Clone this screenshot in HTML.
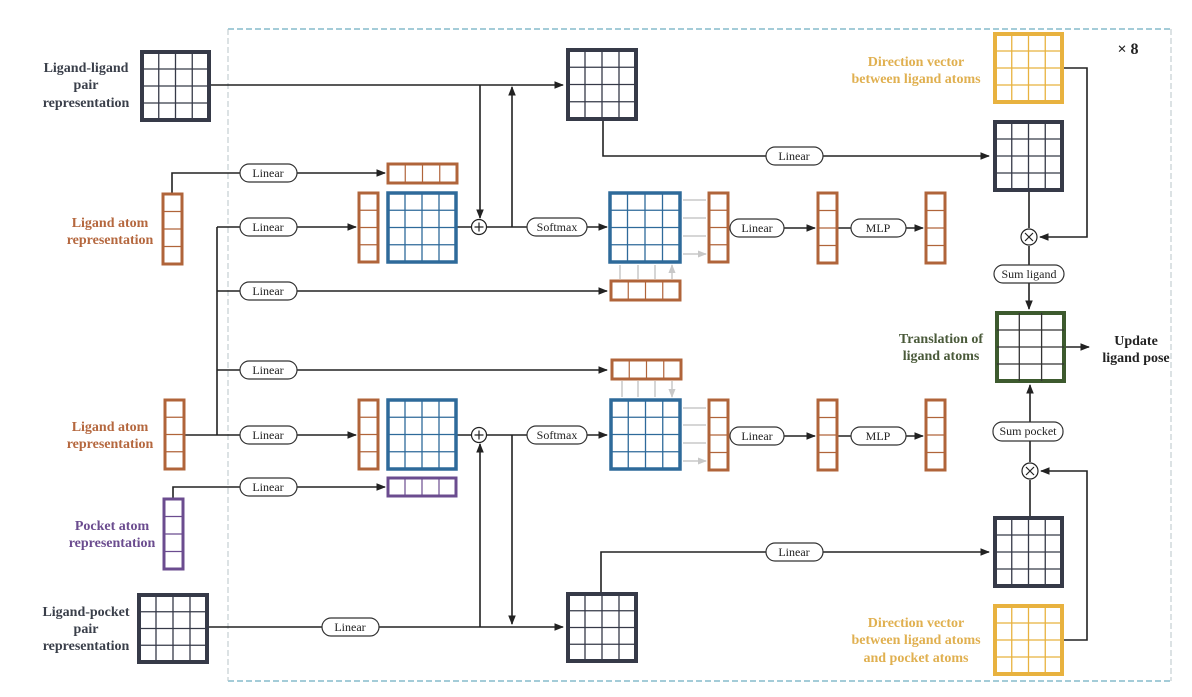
<!DOCTYPE html>
<html><head><meta charset="utf-8"><style>
html,body{margin:0;padding:0;background:#fff;}
svg{display:block;}
.lb{font-family:"Liberation Serif",serif;font-weight:bold;font-size:14px;text-anchor:middle;}
.pl{font-family:"Liberation Serif",serif;font-size:12px;text-anchor:middle;fill:#222;}
.pill{fill:#fff;stroke:#333;stroke-width:1.2;}
.ln{stroke:#222;stroke-width:1.6;fill:none;}
.gl{stroke:#c8c8c8;stroke-width:1.5;fill:none;}
</style></head><body>
<svg width="1192" height="697" viewBox="0 0 1192 697" xmlns="http://www.w3.org/2000/svg">
<defs>
<marker id="a" viewBox="0 0 10 10" refX="9" refY="5" markerWidth="6" markerHeight="6" orient="auto-start-reverse"><path d="M0 1L10 5L0 9z" fill="#222"/></marker>
<marker id="g" viewBox="0 0 10 10" refX="9" refY="5" markerWidth="6" markerHeight="6" orient="auto-start-reverse"><path d="M0 1L10 5L0 9z" fill="#c8c8c8"/></marker>
</defs>
<path d="M228 29H1171" stroke="#4a9ab0" stroke-width="1" stroke-dasharray="6 3"/>
<path d="M228 681H1171" stroke="#4a9ab0" stroke-width="1" stroke-dasharray="6 3"/>
<path d="M228 29V681M1171 29V681" stroke="#b8c4c8" stroke-width="1" stroke-dasharray="6 3"/>
<text x="1128" y="54" font-family="Liberation Serif,serif" font-weight="bold" font-size="16" fill="#222" text-anchor="middle">× 8</text>

<g class="lb" fill="#3a3f4a"><text x="86" y="72">Ligand-ligand</text><text x="86" y="89">pair</text><text x="86" y="107">representation</text></g>
<g class="lb" fill="#b5683f"><text x="110" y="227">Ligand atom</text><text x="110" y="244">representation</text></g>
<g class="lb" fill="#b5683f"><text x="110" y="431">Ligand atom</text><text x="110" y="448">representation</text></g>
<g class="lb" fill="#6b4c8f"><text x="112" y="530">Pocket atom</text><text x="112" y="547">representation</text></g>
<g class="lb" fill="#3a3f4a"><text x="86" y="616">Ligand-pocket</text><text x="86" y="633">pair</text><text x="86" y="650">representation</text></g>
<g class="lb" fill="#e0b050"><text x="916" y="66">Direction vector</text><text x="916" y="83">between ligand atoms</text></g>
<g class="lb" fill="#e0b050"><text x="916" y="627">Direction vector</text><text x="916" y="644">between ligand atoms</text><text x="916" y="662">and pocket atoms</text></g>
<g class="lb" fill="#4a5a3a"><text x="941" y="343">Translation of</text><text x="941" y="360">ligand atoms</text></g>
<g class="lb" fill="#222"><text x="1136" y="345">Update</text><text x="1136" y="362">ligand pose</text></g>

<g class="ln">
<path d="M210 85H563" marker-end="url(#a)"/>
<path d="M480 85V218" marker-end="url(#a)"/>
<path d="M512 227V87" marker-end="url(#a)"/>
<path d="M603 120V156H989" marker-end="url(#a)"/>
<path d="M172 193V173H385" marker-end="url(#a)"/>
<path d="M217 227V435M185 435H217"/>
<path d="M217 227H356" marker-end="url(#a)"/>
<path d="M217 291H607" marker-end="url(#a)"/>
<path d="M217 370H607" marker-end="url(#a)"/>
<path d="M217 435H356" marker-end="url(#a)"/>
<path d="M457 227H472M487 227H607" marker-end="url(#a)"/>
<path d="M729 228H815" marker-end="url(#a)"/>
<path d="M838 228H923" marker-end="url(#a)"/>
<path d="M457 435H472M487 435H607" marker-end="url(#a)"/>
<path d="M729 436H815" marker-end="url(#a)"/>
<path d="M838 436H923" marker-end="url(#a)"/>
<path d="M173 498V487H385" marker-end="url(#a)"/>
<path d="M208 627H563" marker-end="url(#a)"/>
<path d="M480 627V444" marker-end="url(#a)"/>
<path d="M512 435V624" marker-end="url(#a)"/>
<path d="M601 592V552H989" marker-end="url(#a)"/>
<path d="M1063 68H1087V237H1040" marker-end="url(#a)"/>
<path d="M1029 190V228M1029 246V309" marker-end="url(#a)"/>
<path d="M1065 347H1089" marker-end="url(#a)"/>
<path d="M1030 516V480M1030 462V385" marker-end="url(#a)"/>
<path d="M1063 640H1087V471H1041" marker-end="url(#a)"/>
</g>

<g>
<rect class="pill" x="240" y="164" width="57" height="18" rx="9"/><text class="pl" x="268" y="177">Linear</text>
<rect class="pill" x="240" y="218" width="57" height="18" rx="9"/><text class="pl" x="268" y="231">Linear</text>
<rect class="pill" x="240" y="282" width="57" height="18" rx="9"/><text class="pl" x="268" y="295">Linear</text>
<rect class="pill" x="240" y="361" width="57" height="18" rx="9"/><text class="pl" x="268" y="374">Linear</text>
<rect class="pill" x="240" y="426" width="57" height="18" rx="9"/><text class="pl" x="268" y="439">Linear</text>
<rect class="pill" x="240" y="478" width="57" height="18" rx="9"/><text class="pl" x="268" y="491">Linear</text>
<rect class="pill" x="322" y="618" width="57" height="18" rx="9"/><text class="pl" x="350" y="631">Linear</text>
<rect class="pill" x="766" y="147" width="57" height="18" rx="9"/><text class="pl" x="794" y="160">Linear</text>
<rect class="pill" x="766" y="543" width="57" height="18" rx="9"/><text class="pl" x="794" y="556">Linear</text>
<rect class="pill" x="527" y="218" width="60" height="18" rx="9"/><text class="pl" x="557" y="231">Softmax</text>
<rect class="pill" x="527" y="426" width="60" height="18" rx="9"/><text class="pl" x="557" y="439">Softmax</text>
<rect class="pill" x="730" y="219" width="54" height="18" rx="9"/><text class="pl" x="757" y="232">Linear</text>
<rect class="pill" x="730" y="427" width="54" height="18" rx="9"/><text class="pl" x="757" y="440">Linear</text>
<rect class="pill" x="851" y="219" width="55" height="18" rx="9"/><text class="pl" x="878" y="232">MLP</text>
<rect class="pill" x="851" y="427" width="55" height="18" rx="9"/><text class="pl" x="878" y="440">MLP</text>
<rect class="pill" x="994" y="265" width="70" height="18" rx="9"/><text class="pl" x="1029" y="278">Sum ligand</text>
<rect class="pill" x="993" y="422" width="70" height="19" rx="9"/><text class="pl" x="1028" y="435">Sum pocket</text>
</g>
<g fill="#fff" stroke="#222" stroke-width="1.2">
<circle cx="479" cy="227" r="7.5"/><circle cx="479" cy="435" r="7.5"/>
<circle cx="1029" cy="237" r="8"/><circle cx="1030" cy="471" r="8"/>
</g>
<g stroke="#222" stroke-width="1.2">
<path d="M474.5 227h9M479 222.5v9M474.5 435h9M479 430.5v9"/>
<path d="M1025 233l8 8M1033 233l-8 8M1026 467l8 8M1034 467l-8 8"/>
</g>

<g fill="#fff" stroke="#363a48">
<rect x="142" y="52" width="67" height="68" stroke-width="4"/>
<path d="M158.75 52v68M175.5 52v68M192.25 52v68M142 69h67M142 86h67M142 103h67" stroke-width="1.3"/>
<rect x="568" y="50" width="68" height="69" stroke-width="4"/>
<path d="M585 50v69M602 50v69M619 50v69M568 67.25h68M568 84.5h68M568 101.75h68" stroke-width="1.3"/>
<rect x="995" y="122" width="67" height="68" stroke-width="4"/>
<path d="M1011.75 122v68M1028.5 122v68M1045.25 122v68M995 139h67M995 156h67M995 173h67" stroke-width="1.3"/>
<rect x="995" y="518" width="67" height="68" stroke-width="4"/>
<path d="M1011.75 518v68M1028.5 518v68M1045.25 518v68M995 535h67M995 552h67M995 569h67" stroke-width="1.3"/>
<rect x="139" y="595" width="68" height="67" stroke-width="4"/>
<path d="M156 595v67M173 595v67M190 595v67M139 611.75h68M139 628.5h68M139 645.25h68" stroke-width="1.3"/>
<rect x="568" y="594" width="68" height="67" stroke-width="4"/>
<path d="M585 594v67M602 594v67M619 594v67M568 610.75h68M568 627.5h68M568 644.25h68" stroke-width="1.3"/>
</g>
<g fill="#fff" stroke="#e8b23f">
<rect x="995" y="34" width="67" height="68" stroke-width="4"/>
<path d="M1011.75 34v68M1028.5 34v68M1045.25 34v68M995 51h67M995 68h67M995 85h67" stroke-width="1.3"/>
<rect x="995" y="606" width="67" height="68" stroke-width="4"/>
<path d="M1011.75 606v68M1028.5 606v68M1045.25 606v68M995 623h67M995 640h67M995 657h67" stroke-width="1.3"/>
</g>
<g fill="#fff" stroke="#3d5a2e">
<rect x="997" y="313" width="67" height="68" stroke-width="4"/>
<path d="M1019.3 313v68M1041.6 313v68" stroke="#333" stroke-width="1.3"/>
<path d="M997 330h67M997 347h67M997 364h67" stroke="#333" stroke-width="1.3"/>
</g>
<g fill="#fff" stroke="#2e6a9a">
<rect x="388" y="193" width="68" height="69" stroke-width="3.5"/>
<path d="M405 193v69M422 193v69M439 193v69M388 210.25h68M388 227.5h68M388 244.75h68" stroke-width="1.3"/>
<rect x="610" y="193" width="70" height="69" stroke-width="3.5"/>
<path d="M627.5 193v69M645 193v69M662.5 193v69M610 210.25h70M610 227.5h70M610 244.75h70" stroke-width="1.3"/>
<rect x="388" y="400" width="68" height="69" stroke-width="3.5"/>
<path d="M405 400v69M422 400v69M439 400v69M388 417.25h68M388 434.5h68M388 451.75h68" stroke-width="1.3"/>
<rect x="611" y="400" width="69" height="69" stroke-width="3.5"/>
<path d="M628.25 400v69M645.5 400v69M662.75 400v69M611 417.25h69M611 434.5h69M611 451.75h69" stroke-width="1.3"/>
</g>
<g fill="#fff" stroke="#b0643a">
<rect x="163" y="194" width="19" height="70" stroke-width="3"/><path d="M163 211.5h19M163 229h19M163 246.5h19" stroke-width="1.2"/>
<rect x="165" y="400" width="19" height="69" stroke-width="3"/><path d="M165 417.25h19M165 434.5h19M165 451.75h19" stroke-width="1.2"/>
<rect x="359" y="193" width="19" height="69" stroke-width="3"/><path d="M359 210.25h19M359 227.5h19M359 244.75h19" stroke-width="1.2"/>
<rect x="359" y="400" width="19" height="69" stroke-width="3"/><path d="M359 417.25h19M359 434.5h19M359 451.75h19" stroke-width="1.2"/>
<rect x="709" y="193" width="19" height="69" stroke-width="3"/><path d="M709 210.25h19M709 227.5h19M709 244.75h19" stroke-width="1.2"/>
<rect x="818" y="193" width="19" height="70" stroke-width="3"/><path d="M818 210.5h19M818 228h19M818 245.5h19" stroke-width="1.2"/>
<rect x="926" y="193" width="19" height="70" stroke-width="3"/><path d="M926 210.5h19M926 228h19M926 245.5h19" stroke-width="1.2"/>
<rect x="709" y="400" width="19" height="70" stroke-width="3"/><path d="M709 417.5h19M709 435h19M709 452.5h19" stroke-width="1.2"/>
<rect x="818" y="400" width="19" height="70" stroke-width="3"/><path d="M818 417.5h19M818 435h19M818 452.5h19" stroke-width="1.2"/>
<rect x="926" y="400" width="19" height="70" stroke-width="3"/><path d="M926 417.5h19M926 435h19M926 452.5h19" stroke-width="1.2"/>
<rect x="388" y="164" width="69" height="19" stroke-width="3"/><path d="M405.25 164v19M422.5 164v19M439.75 164v19" stroke-width="1.2"/>
<rect x="611" y="281" width="69" height="19" stroke-width="3"/><path d="M628.25 281v19M645.5 281v19M662.75 281v19" stroke-width="1.2"/>
<rect x="612" y="360" width="69" height="19" stroke-width="3"/><path d="M629.25 360v19M646.5 360v19M663.75 360v19" stroke-width="1.2"/>
</g>
<g fill="#fff" stroke="#6b4c8f">
<rect x="164" y="499" width="19" height="70" stroke-width="3"/><path d="M164 516.5h19M164 534h19M164 551.5h19" stroke-width="1.2"/>
<rect x="388" y="478" width="68" height="18" stroke-width="3"/><path d="M405 478v18M422 478v18M439 478v18" stroke-width="1.2"/>
</g>
<g class="gl">
<path d="M683 200H706M683 218H706M683 236H706M683 254H706" marker-end="url(#g)"/>
<path d="M620 279V265M638 279V265M655 279V265M672 279V265" marker-end="url(#g)"/>
<path d="M683 408H706M683 425H706M683 443H706M683 461H706" marker-end="url(#g)"/>
<path d="M622 381V397M638 381V397M655 381V397M672 381V397" marker-end="url(#g)"/>
</g>
</svg>
</body></html>
